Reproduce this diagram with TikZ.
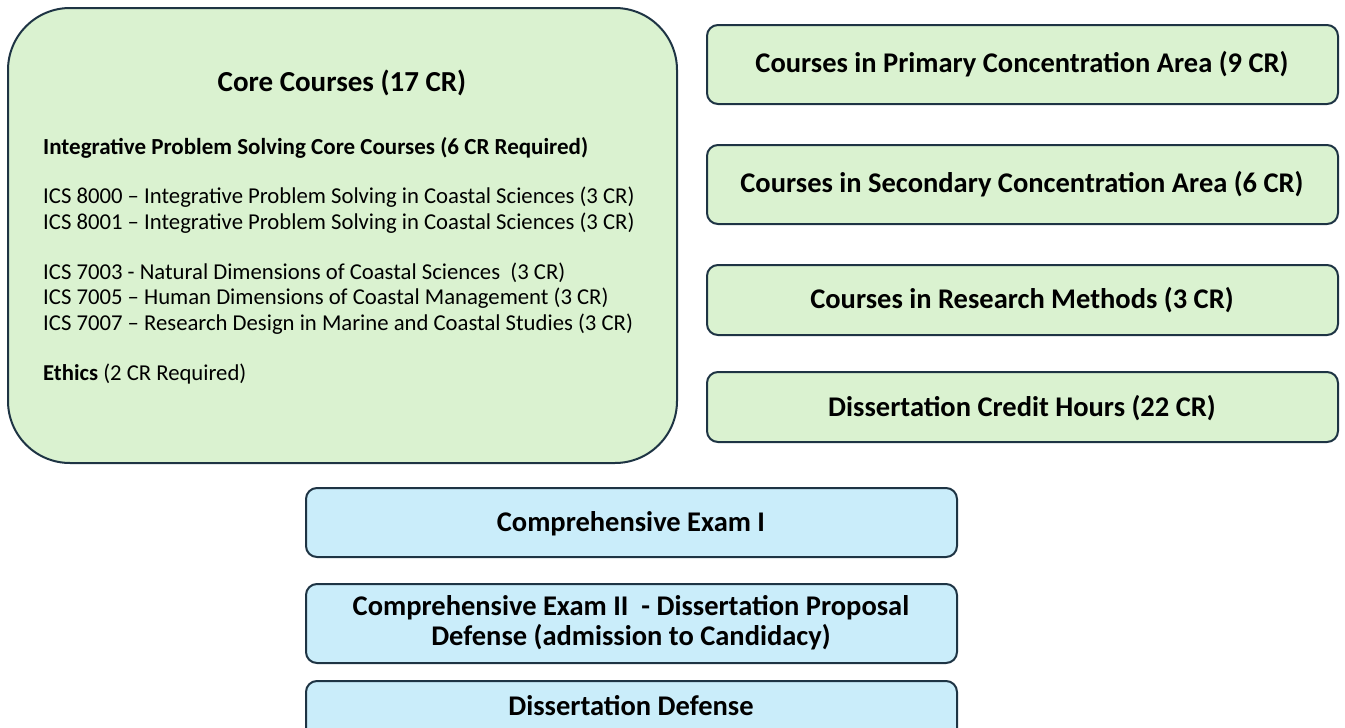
\documentclass[tikz,border=0pt]{standalone}
\usepackage{fontspec}
\setmainfont{Carlito}
\begin{document}
\begin{tikzpicture}[x=1pt,y=-1pt,
  greenbox/.style={draw=edgecol,line width=2pt,fill=greenfill,rounded corners=11pt},
  bluebox/.style={draw=edgecol,line width=2pt,fill=bluefill,rounded corners=11pt},
  boxtitle/.style={font=\fontsize{28.5}{30}\selectfont\bfseries,align=center,text=black,inner sep=0pt},
  bodyline/.style={font=\fontsize{22.7}{26}\selectfont,anchor=base west,inner sep=0pt,text=black}]
\definecolor{edgecol}{HTML}{1E3444}
\definecolor{greenfill}{HTML}{DAF2D0}
\definecolor{bluefill}{HTML}{CAEDFA}
\useasboundingbox (0,0) rectangle (1345,728);
\clip (0,0) rectangle (1345,728);
% core courses panel
\draw[greenbox,rounded corners=62pt] (8,8) rectangle (677,463);
\node[boxtitle,font=\fontsize{29}{30}\selectfont\bfseries] (core) at (342,83) {Core Courses (17 CR)};
\node[bodyline,font=\fontsize{23}{26}\selectfont\bfseries] (ips) at (43,154) {Integrative Problem Solving Core Courses (6 CR Required)};
\node[bodyline] (c8000) at (43,203) {ICS 8000 – Integrative Problem Solving in Coastal Sciences (3 CR)};
\node[bodyline] (c8001) at (43,229) {ICS 8001 – Integrative Problem Solving in Coastal Sciences (3 CR)};
\node[bodyline] (c7003) at (43,279) {ICS 7003 - Natural Dimensions of Coastal Sciences \ (3 CR)};
\node[bodyline] (c7005) at (43,304) {ICS 7005 – Human Dimensions of Coastal Management (3 CR)};
\node[bodyline] (c7007) at (43,330) {ICS 7007 – Research Design in Marine and Coastal Studies (3 CR)};
\node[bodyline] (ethics) at (43,380) {\textbf{Ethics} (2 CR Required)};
% right column
\draw[greenbox] (707,25) rectangle (1338,104);
\node[boxtitle] (prim) at (1022,64) {Courses in Primary Concentration Area (9 CR)};
\draw[greenbox] (707,145) rectangle (1338,224);
\node[boxtitle] (sec) at (1022,184) {Courses in Secondary Concentration Area (6 CR)};
\draw[greenbox] (707,265) rectangle (1338,335);
\node[boxtitle] (meth) at (1022,300) {Courses in Research Methods (3 CR)};
\draw[greenbox] (707,372) rectangle (1338,442);
\node[boxtitle] (diss) at (1022,408) {Dissertation Credit Hours (22 CR)};
% milestones
\draw[bluebox] (306,488) rectangle (957,557);
\node[boxtitle] (exam1) at (631,524) {Comprehensive Exam I};
\draw[bluebox] (306,584) rectangle (957,663);
\node[boxtitle] (exam2) at (631,623) {Comprehensive Exam II \ - Dissertation Proposal\\Defense (admission to Candidacy)};
\draw[bluebox] (306,681) rectangle (957,745);
\node[boxtitle] (defense) at (631,706) {Dissertation Defense};
\end{tikzpicture}
\end{document}
